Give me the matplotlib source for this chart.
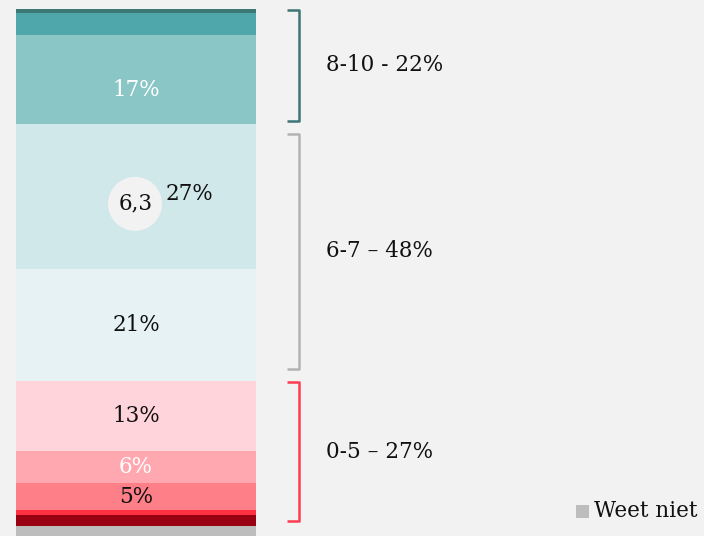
import matplotlib
matplotlib.use("Agg")
import matplotlib.pyplot as plt
from matplotlib.patches import Ellipse, Rectangle

# data, bottom to top
categories = ["Weet niet", "0-1", "2", "3", "4", "5", "6", "7", "8", "9", "10"]
shares = [3, 2, 1, 5, 6, 13, 21, 27, 16.6, 4.1, 0.8]
colors = ["#bdbdbd", "#990012", "#ff3040", "#ff7f88", "#ffa8b0", "#ffd4da",
          "#e6f2f3", "#d1e8ea", "#8bc6c7", "#4fa7ab", "#3b7876"]
value_labels = ["", "", "", "5%", "6%", "13%", "21%", "27%", "17%", "", ""]
label_colors = ["k", "k", "k", "#111111", "white", "#111111", "#111111",
                "#111111", "white", "k", "k"]

group_labels = ["0-5 \u2013 27%", "6-7 \u2013 48%", "8-10 - 22%"]
group_sizes = [5, 2, 3]          # number of segments per group (after 'Weet niet')
group_colors = ["#ff3b4f", "#b3b3b3", "#3d7474"]
mean_score = "6,3"

BG = "#f2f2f2"
PX = 5.36          # pixels per percent

plt.rcParams["font.family"] = ["DejaVu Serif"]
fs = 15.5

fig = plt.figure(figsize=(7.04, 5.36), dpi=100, facecolor=BG)
ax = fig.add_axes([0, 0, 1, 1])
ax.set_facecolor(BG)
# anchor so the top of the 'Weet niet' block sits at pixel row 526
ybot = shares[0] - 10 / PX
ax.set_xlim(0, 704)
ax.set_ylim(ybot, ybot + 536 / PX)
ax.axis("off")


def py(px):
    # pixel row (from top) -> data value
    return ybot + (536 - px) / PX


bottoms = []
cum = 0
for s in shares:
    bottoms.append(cum)
    cum += s

ax.bar(136, shares, bottom=bottoms, width=240, color=colors, linewidth=0)

# segment labels
offsets = {8: -2.0, 7: 0.4}
for i, lab in enumerate(value_labels):
    if not lab:
        continue
    y = bottoms[i] + shares[i] / 2 + offsets.get(i, 0)
    x = 136
    if i == 7:
        x = 189
    ax.text(x, y, lab, ha="center", va="center", fontsize=fs,
            color=label_colors[i])

# mean score bubble inside the 27% segment
cy = bottoms[7] + shares[7] / 2 - 1.4
ax.add_patch(Ellipse((135, cy), 54, 54 / PX, facecolor=BG, edgecolor="none"))
ax.text(136, cy, mean_score, ha="center", va="center", fontsize=fs, color="#111111")

# brackets (pixel rows of top/bottom ends)
bracket_rows = [(382, 521), (134, 369), (10, 121)]
for g, (t, b) in enumerate(bracket_rows):
    top, bot = py(t), py(b)
    ax.plot([287, 299, 299, 287], [top, top, bot, bot], color=group_colors[g],
            lw=1.8, solid_joinstyle="round", solid_capstyle="butt")
    ax.text(326, (top + bot) / 2, group_labels[g], ha="left", va="center",
            fontsize=fs, color="#111111")

# legend for 'Weet niet'
ly = py(511)
ax.add_patch(Rectangle((576, ly - 6.5 / PX), 13, 13 / PX, facecolor=colors[0],
                       edgecolor="none"))
ax.text(594, ly, categories[0], ha="left", va="center", fontsize=fs, color="#111111")

fig.savefig("out.png", dpi=100, facecolor=BG)
